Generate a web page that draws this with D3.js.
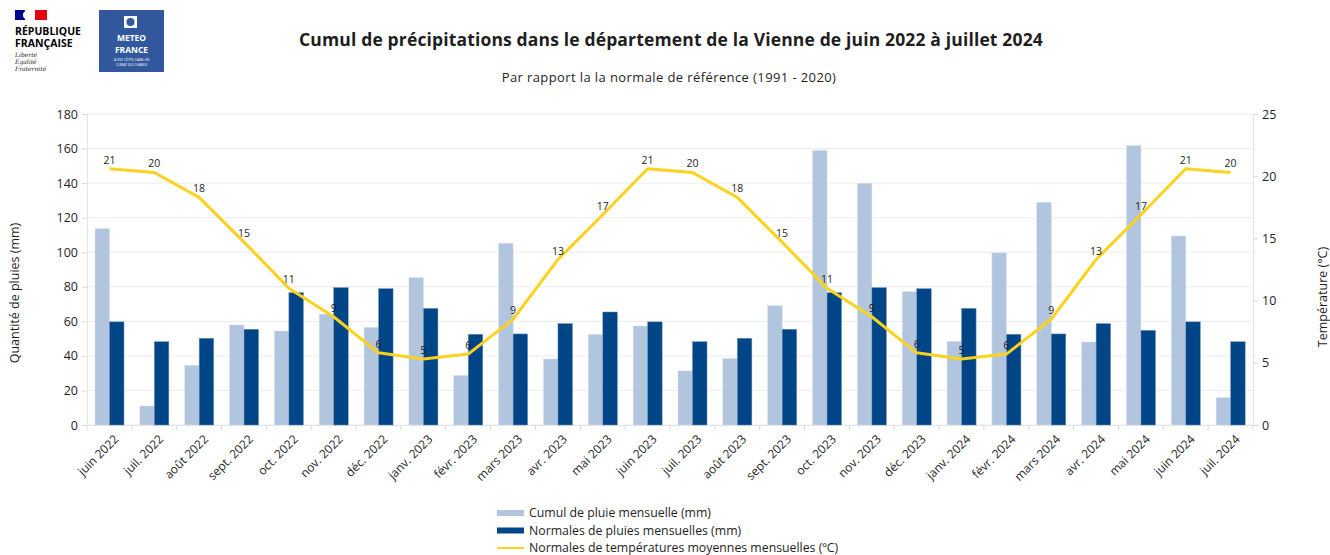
<!DOCTYPE html>
<html>
<head>
<meta charset="utf-8">
<script src="https://cdn.jsdelivr.net/npm/d3@7"></script>
<style>
  body { margin: 0; background: #fff; font-family: "Open Sans", Lato, sans-serif; }
  svg text { fill: #1e1e1e; }
</style>
</head>
<body>
<svg width="1330" height="555"></svg>
<script>
// mois (axe x)
const months = ["juin 2022", "juil. 2022", "août 2022", "sept. 2022", "oct. 2022", "nov. 2022", "déc. 2022",
  "janv. 2023", "févr. 2023", "mars 2023", "avr. 2023", "mai 2023", "juin 2023", "juil. 2023", "août 2023",
  "sept. 2023", "oct. 2023", "nov. 2023", "déc. 2023", "janv. 2024", "févr. 2024", "mars 2024", "avr. 2024",
  "mai 2024", "juin 2024", "juil. 2024"]

// cumul de pluie mensuelle (mm)
const cumul = [113.6, 11.0, 34.5, 57.9, 54.4, 64.2, 56.5, 85.3, 28.7, 105.2, 38.2, 52.5, 57.3,
  31.3, 38.4, 69.1, 159.0, 139.9, 77.2, 48.4, 99.6, 128.9, 48.0, 161.7, 109.4, 15.8]

// normales de pluies mensuelles (mm)
const normales = [59.7, 48.2, 50.2, 55.4, 76.6, 79.5, 78.9, 67.5, 52.5, 52.7, 58.7, 65.4, 59.7,
  48.2, 50.2, 55.4, 76.6, 79.5, 78.9, 67.5, 52.5, 52.7, 58.7, 54.8, 59.7, 48.2]

// normales de températures moyennes (°C)
const temps = [20.6, 20.3, 18.3, 14.7, 11.0, 8.7, 5.8, 5.3, 5.7, 8.5, 13.3, 16.9, 20.6,
  20.3, 18.3, 14.7, 11.0, 8.7, 5.8, 5.3, 5.7, 8.5, 13.3, 16.9, 20.6, 20.3]

const mmTicks = [0, 20, 40, 60, 80, 100, 120, 140, 160, 180]
const tempTicks = [0, 5, 10, 15, 20, 25]

const legendItems = [
  {label: "Cumul de pluie mensuelle (mm)", color: "#b1c5df", type: "bar"},
  {label: "Normales de pluies mensuelles (mm)", color: "#004586", type: "bar"},
  {label: "Normales de températures moyennes mensuelles (ºC)", color: "#fdd21f", type: "line"}
]

const colLight = "#b1c5df", colDark = "#004586", colLine = "#fdd21f"
const font = "'Open Sans', Lato, sans-serif"

const svg = d3.select("svg").attr("font-family", font)
const plotLeft = 87, plotRight = 1253, plotTop = 114, plotBottom = 425

const x = d3.scaleBand().domain(months).range([plotLeft, plotRight]).padding(0)
const xInner = d3.scaleBand().domain(["cumul", "normale"]).range([8, 37]).padding(0)
const y = d3.scaleLinear().domain([0, 180]).range([plotBottom, plotTop])
const yT = d3.scaleLinear().domain([0, 25]).range([plotBottom, plotTop])

// grille
svg.append("g")
  .selectAll("line")
  .data(mmTicks)
  .enter().append("line")
    .attr("x1", plotLeft).attr("x2", plotRight)
    .attr("y1", d => y(d)).attr("y2", d => y(d))
    .attr("stroke", "#ececec").attr("stroke-width", 1)

// axe gauche
const yAxis = svg.append("g")
  .attr("transform", `translate(${plotLeft},0)`)
  .call(d3.axisLeft(y).tickValues(mmTicks).tickSize(5).tickPadding(4))
yAxis.select(".domain").attr("stroke", "#e4e4e4")
yAxis.selectAll(".tick line").attr("stroke", "#d8d8d8")
yAxis.selectAll("text").attr("font-size", 12.5).attr("font-family", font).attr("fill", "#1e1e1e")

// axe droit
const yAxisR = svg.append("g")
  .attr("transform", `translate(${plotRight},0)`)
  .call(d3.axisRight(yT).tickValues(tempTicks).tickSize(5).tickPadding(4))
yAxisR.select(".domain").attr("stroke", "#e4e4e4")
yAxisR.selectAll(".tick line").attr("stroke", "#d8d8d8")
yAxisR.selectAll("text").attr("font-size", 12.5).attr("font-family", font).attr("fill", "#1e1e1e")

// axe x : repères aux limites des mois
svg.append("line")
  .attr("x1", plotLeft).attr("x2", plotRight).attr("y1", plotBottom + 0.5).attr("y2", plotBottom + 0.5)
  .attr("stroke", "#e4e4e4")
svg.append("g")
  .selectAll("line")
  .data(months.concat([null]))
  .enter().append("line")
    .attr("x1", (d, i) => plotLeft + i * x.step()).attr("x2", (d, i) => plotLeft + i * x.step())
    .attr("y1", plotBottom).attr("y2", plotBottom + 5)
    .attr("stroke", "#d8d8d8")

svg.append("g")
  .selectAll("text")
  .data(months)
  .enter().append("text")
    .attr("transform", d => `translate(${x(d) + x.bandwidth() / 2 + 4},${plotBottom + 9}) rotate(-45)`)
    .attr("text-anchor", "end")
    .attr("dy", "0.7em")
    .attr("font-size", 12)
    .text(d => d)

// barres
const groups = svg.append("g")
  .selectAll("g")
  .data(months)
  .enter().append("g")
    .attr("transform", d => `translate(${x(d)},0)`)

groups.append("rect")
  .attr("x", xInner("cumul"))
  .attr("width", xInner.bandwidth())
  .attr("y", (d, i) => y(cumul[i]))
  .attr("height", (d, i) => plotBottom - y(cumul[i]))
  .attr("fill", colLight)
  .attr("stroke", "#d5e0ee").attr("stroke-width", 0.5)

groups.append("rect")
  .attr("x", xInner("normale"))
  .attr("width", xInner.bandwidth())
  .attr("y", (d, i) => y(normales[i]))
  .attr("height", (d, i) => plotBottom - y(normales[i]))
  .attr("fill", colDark)
  .attr("stroke", "#6d8fb8").attr("stroke-width", 0.5)

// courbe des températures
const line = d3.line()
  .x((d, i) => x(months[i]) + x.bandwidth() / 2)
  .y(d => yT(d))

svg.append("path")
  .datum(temps)
  .attr("d", line)
  .attr("fill", "none")
  .attr("stroke", colLine)
  .attr("stroke-width", 3)
  .attr("stroke-linejoin", "round")

svg.append("g")
  .selectAll("text")
  .data(temps)
  .enter().append("text")
    .attr("x", (d, i) => x(months[i]) + x.bandwidth() / 2)
    .attr("y", d => yT(d) - 5)
    .attr("text-anchor", "middle")
    .attr("font-size", 10.5)
    .attr("fill", "#222")
    .text(d => Math.round(d))

// titres d'axes
svg.append("text")
  .attr("transform", "translate(19,293) rotate(-90)")
  .attr("text-anchor", "middle")
  .attr("font-size", 12.5)
  .text("Quantité de pluies (mm)")

svg.append("text")
  .attr("transform", "translate(1327,297) rotate(-90)")
  .attr("text-anchor", "middle")
  .attr("font-size", 12.5)
  .text("Température (°C)")

// titre
svg.append("text")
  .attr("x", 671).attr("y", 46)
  .attr("text-anchor", "middle")
  .attr("font-size", 17.5)
  .attr("letter-spacing", 0.15)
  .attr("font-weight", "bold")
  .text("Cumul de précipitations dans le département de la Vienne de juin 2022 à juillet 2024")

svg.append("text")
  .attr("x", 669).attr("y", 82)
  .attr("text-anchor", "middle")
  .attr("font-size", 13)
  .attr("letter-spacing", 0.4)
  .text("Par rapport la la normale de référence (1991 - 2020)")

// légende
const leg = svg.append("g")
  .selectAll("g")
  .data(legendItems)
  .enter().append("g")
    .attr("transform", (d, i) => `translate(497,${513 + i * 17.5})`)

leg.append("rect")
  .attr("x", 0).attr("width", 27)
  .attr("y", d => d.type === "bar" ? -3 : -1)
  .attr("height", d => d.type === "bar" ? 6 : 2)
  .attr("fill", d => d.color)
leg.append("text")
  .attr("x", 32).attr("dy", "0.35em")
  .attr("font-size", 12.3)
  .text(d => d.label)

// logos
const rf = svg.append("g").attr("transform", "translate(15,10)")
rf.append("rect").attr("x", 0).attr("y", 0).attr("width", 10).attr("height", 10).attr("fill", "#000091")
rf.append("rect").attr("x", 10).attr("y", 0).attr("width", 10).attr("height", 10).attr("fill", "#fff")
rf.append("rect").attr("x", 20).attr("y", 0).attr("width", 12).attr("height", 10).attr("fill", "#e1000f")
rf.append("circle").attr("cx", 12).attr("cy", 5).attr("r", 4).attr("fill", "#fff")
rf.append("text").attr("x", 0).attr("y", 25).attr("font-size", 10.5).attr("font-weight", "bold").style("fill", "#000").text("RÉPUBLIQUE")
rf.append("text").attr("x", 0).attr("y", 37).attr("font-size", 10.5).attr("font-weight", "bold").style("fill", "#000").text("FRANÇAISE")
rf.append("text").attr("x", 0).attr("y", 47).attr("font-size", 6).attr("font-style", "italic").attr("font-family", "DejaVu Serif, serif").text("Liberté")
rf.append("text").attr("x", 0).attr("y", 54).attr("font-size", 6).attr("font-style", "italic").attr("font-family", "DejaVu Serif, serif").text("Égalité")
rf.append("text").attr("x", 0).attr("y", 61).attr("font-size", 6).attr("font-style", "italic").attr("font-family", "DejaVu Serif, serif").text("Fraternité")

const mf = svg.append("g").attr("transform", "translate(99,10)")
mf.append("rect").attr("width", 65).attr("height", 62).attr("fill", "#31589d")
mf.append("rect").attr("x", 25).attr("y", 6).attr("width", 13).attr("height", 12).attr("fill", "#fff")
mf.append("circle").attr("cx", 31.5).attr("cy", 12).attr("r", 4).attr("fill", "#31589d")
mf.append("text").attr("x", 32.5).attr("y", 31).attr("text-anchor", "middle").attr("font-size", 8.5).attr("font-weight", "bold").style("fill", "#fff").text("METEO")
mf.append("text").attr("x", 32.5).attr("y", 43).attr("text-anchor", "middle").attr("font-size", 8.5).attr("font-weight", "bold").style("fill", "#fff").text("FRANCE")
mf.append("text").attr("x", 32.5).attr("y", 50.5).attr("text-anchor", "middle").attr("font-size", 3.2).style("fill", "#fff").text("À VOS CÔTÉS, DANS UN")
mf.append("text").attr("x", 32.5).attr("y", 56).attr("text-anchor", "middle").attr("font-size", 3.2).style("fill", "#fff").text("CLIMAT QUI CHANGE")
</script>
</body>
</html>
